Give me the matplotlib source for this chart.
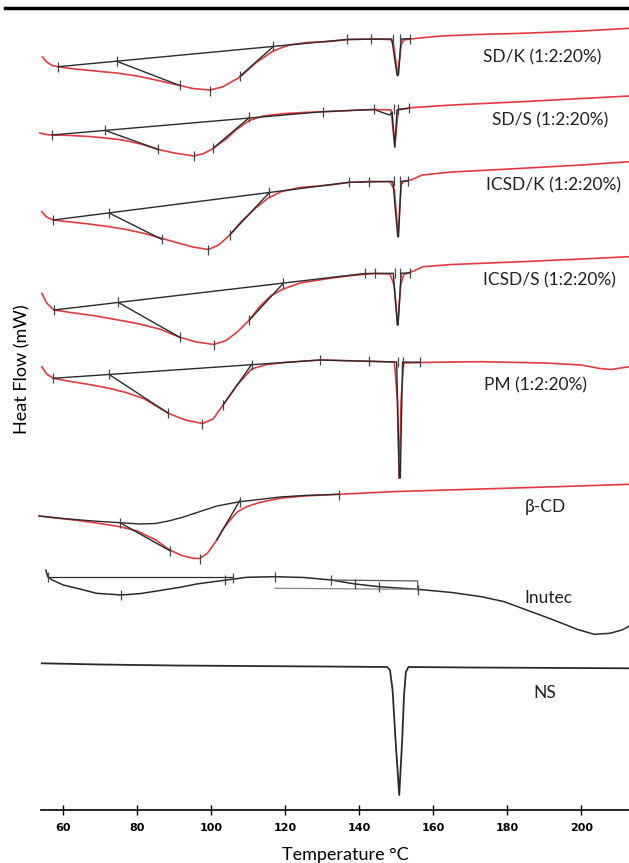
import matplotlib
matplotlib.use("Agg")
import matplotlib.pyplot as plt
from matplotlib.lines import Line2D

plt.rcParams['font.family'] = ['Lato', 'DejaVu Sans']

RED = '#e23a40'
BLK = '#2a2a2a'

# x tick labels (temperature, deg C)
temp_ticks = [60, 80, 100, 120, 140, 160, 180, 200]

# curve names and label spots (T, offset)
names = ['SD/K (1:2:20%)', 'SD/S (1:2:20%)', 'ICSD/K (1:2:20%)', 'ICSD/S (1:2:20%)',
         'PM (1:2:20%)', 'β-CD', 'Inutec', 'NS']
name_T = [189.5, 191.5, 192.5, 191.3, 187.7, 190.3, 191.2, 190.2]
name_y = [57, 120, 185, 280, 385, 507, 598, 693]

# heat flow is read as stacked offsets (arbitrary units, larger = lower on the plot)
# ---- SD/K ----
sdk_T = [54.4, 55.5, 57, 58.6, 62, 66, 70, 74.4, 80, 85, 91.5, 95, 99.6, 103, 107.8, 112,
         116.7, 121, 126, 132, 137, 143, 148.5, 149.3, 150.4, 151.3, 152, 155, 162, 172,
         184, 200, 213]
sdk_hf = [57, 62, 65.5, 66.7, 68.5, 70, 71.5, 73, 76, 80, 85.5, 88.5, 90, 87, 77, 63,
          51, 45, 42.5, 41.5, 39.5, 39, 39.5, 45, 76, 45, 40, 38.5, 36, 34.5,
          33.3, 31, 28.3]
sdk_base = [(58.6, 66.7), (136.6, 39.5), (148.8, 39), (150.2, 75), (150.6, 75), (151.3, 39), (153.7, 38.7)]
sdk_tan1 = [(74.4, 61.2), (91.5, 85.5)]
sdk_tan2 = [(107.8, 76), (116.8, 46.5)]
sdk_ticks = [(58.6, 66.7), (74.4, 61.2), (91.5, 85.5), (99.6, 91), (107.8, 76), (116.8, 46.5),
             (136.6, 39.5), (143.3, 39), (149.2, 39), (151, 39), (153.7, 38.7)]

# ---- SD/S ----
sds_T = [53.7, 55.3, 56.9, 62, 67, 71.3, 76, 81, 85.7, 90, 95.3, 98, 100.5, 104, 107, 110.3,
         114, 120, 126, 132, 140, 144, 148.6, 149.6, 150.5, 154, 165, 184, 200, 213]
sds_hf = [133, 134.5, 135, 135.5, 136.5, 138, 140, 144, 149.5, 153, 156, 153.5, 148.5, 139, 129, 120.5,
          116, 113.5, 112.3, 111.5, 110, 109.5, 110, 147, 110, 107.7, 105, 101.7, 98.5, 96]
sds_base = [(56.9, 135), (130.2, 111.7), (144, 109.5), (145.5, 111.5), (147, 113.5), (148.3, 115),
            (148.9, 112), (149.6, 147), (150.2, 110), (150.5, 109.3), (153.5, 108.2)]
sds_tan1 = [(71.3, 130.4), (85.7, 149.5)]
sds_tan2 = [(100.5, 148.3), (110.3, 117.5)]
sds_ticks = [(56.9, 135), (71.3, 130.4), (85.7, 149.5), (95.3, 156.5), (100.5, 148.3), (110.3, 117.5),
             (130.2, 111.7), (144, 109.5), (149.4, 109.5), (150.5, 109.3), (153.5, 108.2)]

# ---- ICSD/K ----
icsdk_T = [54.2, 55.5, 57.3, 62, 67, 72.4, 77, 82, 86.6, 91, 95, 99.2, 102, 105, 108, 112,
           115.4, 119, 124, 132, 137.3, 142.7, 148.3, 149.5, 150.5, 151.3, 152, 154, 157, 165,
           184, 200, 213]
icsdk_hf = [211.7, 217, 220, 222, 224, 226.7, 229.5, 233.5, 238.3, 243, 247, 249.5, 245, 235, 222, 208,
            198, 191.5, 187.5, 185, 182.3, 181.5, 181.5, 190, 236.7, 185, 181, 180, 175, 172,
            168.3, 165, 161.7]
icsdk_base = [(57.3, 220), (137.3, 182.3), (149.1, 181.5), (150.4, 236.7), (150.6, 236.7),
              (151.3, 181.5), (153.2, 181)]
icsdk_tan1 = [(72.4, 213), (86.6, 239.3)]
icsdk_tan2 = [(105, 235), (115.7, 192.5)]
icsdk_ticks = [(57.3, 220), (72.4, 213), (86.6, 239.3), (99.2, 250), (105, 235), (115.7, 192.5),
               (137.3, 182.3), (142.7, 181.7), (149.3, 181.5), (151, 181.5), (153.2, 181)]

# ---- ICSD/S ----
icsds_T = [54.2, 55.5, 57.5, 62, 68, 74.9, 80, 86, 91.5, 96, 100.7, 104, 107, 110.3, 113, 116,
           119.5, 124, 132, 138, 144.2, 148.3, 149.4, 150.4, 151.2, 152, 154.7, 157.2, 165,
           184, 200, 213]
icsds_hf = [293.3, 303, 310, 312.5, 315.5, 320, 323.5, 329, 337.3, 342, 344.5, 340.5, 332, 320, 307, 296,
            289, 283, 278.3, 275.5, 273.5, 274, 285, 325, 285, 274.5, 271, 266.7, 264.5,
            261.7, 259, 256.7]
icsds_base = [(57.5, 310), (141.5, 273.5), (149.2, 273.3), (150.3, 325), (150.5, 325),
              (151.3, 273.2), (153.7, 273)]
icsds_tan1 = [(74.9, 302.5), (91.5, 337.3)]
icsds_tan2 = [(110.3, 320), (119.5, 283.2)]
icsds_ticks = [(57.5, 310), (74.9, 302.5), (91.5, 337.3), (100.7, 345), (110.3, 320), (119.5, 283.2),
               (141.5, 273.5), (144.2, 273.4), (149.6, 273.3), (151.1, 273.2), (153.7, 273)]

# ---- PM ----
pm_T = [54.2, 55.5, 57.3, 62, 67, 72.4, 77, 82, 88.4, 93, 97.6, 100.5, 103.2, 107, 110.9, 115,
        120, 129.4, 140, 149.5, 150.3, 150.8, 151.3, 152, 156.4, 165, 173, 190, 200, 205,
        208, 213]
pm_hf = [366.7, 374, 378.3, 381.5, 384.5, 388.3, 392.5, 399, 413.3, 420, 423.5, 419, 405, 385, 369, 364.5,
         362.5, 360, 361, 362, 400, 478, 400, 363, 362.5, 362, 361.7, 363, 365, 368.5,
         369.5, 366.7]
pm_base = [(57.3, 378.3), (129.4, 360), (150.1, 362), (150.8, 478), (151.1, 478), (151.7, 362),
           (156.4, 362.3)]
pm_tan1 = [(72.4, 374.5), (88.4, 413.3)]
pm_tan2 = [(103.2, 405), (110.9, 364.5)]
pm_ticks = [(57.3, 378.3), (72.4, 374.5), (88.4, 413.3), (97.6, 424), (103.2, 405), (110.9, 364.7),
            (129.4, 360), (142.7, 361.5), (150.4, 362), (151.7, 362), (156.4, 362.3)]

# ---- beta-CD ----
bcd_T = [53.5, 58, 63, 69, 75.3, 80, 85, 88.8, 92, 95.1, 96.9, 99, 101.5, 103, 105.1, 107,
         109.6, 113, 118.6, 125, 134.4, 150, 173, 195, 213]
bcd_hf = [516, 518, 520, 523, 526.7, 531, 540, 550, 555.5, 558.3, 558.5, 553, 540, 530, 520, 512,
          506.7, 502.5, 498.3, 496, 494.3, 491.5, 489, 486.5, 484.3]
bcd_base = [(53.5, 516), (60, 518.5), (68, 521), (75.3, 522.7), (80.7, 524), (85, 523.5), (88.8, 520.7),
            (92.5, 517), (96, 512.7), (101.5, 506), (107.7, 501.7), (113, 499.5), (118.6, 497),
            (125, 495.5), (134.4, 494.3)]
bcd_tan1 = [(75.3, 522.7), (88.8, 550.7)]
bcd_tan2 = [(101.5, 540), (107.7, 500.7)]
bcd_ticks = [(75.3, 522.7), (88.8, 550.5), (96.9, 559), (107.7, 501.7), (134.4, 494.5)]

# ---- Inutec ----
inu_T = [55.3, 55.8, 57, 60, 65, 69, 75.8, 81, 87, 92, 96, 100, 104.2, 109.6, 117.2, 125,
         132.4, 138.9, 145.3, 155.8, 165, 173, 179, 184, 190, 194.8, 199, 203.5, 207.7, 211, 213]
inu_hf = [570, 576.7, 580, 585, 589.5, 593.3, 595, 593.5, 590, 587, 584, 582, 580, 577.3, 576.7, 577.5,
          580, 584, 586.7, 589.3, 592.5, 596.7, 601.5, 608.3, 616.5, 623.3, 629.5, 634.3, 633.3, 630, 626]
inu_flat = [(55.9, 577), (105.8, 577)]
inu_box = [(132.4, 580), (155.8, 581), (155.8, 590)]
inu_low = [(117.2, 588.3), (155.8, 589.3)]
inu_ticks = [(55.9, 577), (75.5, 595), (103.7, 580), (105.8, 577.5), (117.2, 577), (132.4, 580),
             (138.9, 584), (145.3, 587), (155.8, 589.5)]

# ---- NS ----
ns_T = [54.2, 70, 90, 110, 130, 147.5, 148.3, 149, 149.8, 150.8, 151.6, 152.1, 152.6, 153.3, 170, 213]
ns_hf = [663.3, 664.5, 665.5, 666, 666.5, 667, 670, 690, 740, 795, 740, 695, 672, 667, 667.5, 668.3]

fig = plt.figure(figsize=(6.29, 8.63), dpi=100)
ax = fig.add_axes([0, 0, 1, 1])
ax.set_xlim(42.9, 212.9)
ax.set_ylim(863, 0)


def xy(pts):
    return [p[0] for p in pts], [p[1] for p in pts]


def draw_dsc(T, hf, base, tan1, tan2, ticks):
    ax.plot(T, hf, color=RED, lw=1.2, zorder=2)
    for seg in (base, tan1, tan2):
        ax.plot(*xy(seg), color=BLK, lw=1.0, zorder=3)
    tx, ty = xy(ticks)
    ax.plot(tx, ty, ls='none', marker='|', ms=7, mew=0.9, color='#444444', zorder=4)


draw_dsc(sdk_T, sdk_hf, sdk_base, sdk_tan1, sdk_tan2, sdk_ticks)
draw_dsc(sds_T, sds_hf, sds_base, sds_tan1, sds_tan2, sds_ticks)
draw_dsc(icsdk_T, icsdk_hf, icsdk_base, icsdk_tan1, icsdk_tan2, icsdk_ticks)
draw_dsc(icsds_T, icsds_hf, icsds_base, icsds_tan1, icsds_tan2, icsds_ticks)
draw_dsc(pm_T, pm_hf, pm_base, pm_tan1, pm_tan2, pm_ticks)
draw_dsc(bcd_T, bcd_hf, bcd_base, bcd_tan1, bcd_tan2, bcd_ticks)

# inutec (black only)
ax.plot(inu_T, inu_hf, color=BLK, lw=1.1)
ax.plot(*xy(inu_flat), color=BLK, lw=0.9)
ax.plot(*xy(inu_box), color='#555555', lw=0.9)
ax.plot(*xy(inu_low), color='#888888', lw=0.9)
tx, ty = xy(inu_ticks)
ax.plot(tx, ty, ls='none', marker='|', ms=7, mew=0.9, color='#444444')

# NS
ax.plot(ns_T, ns_hf, color=BLK, lw=1.3)

for n, t, y in zip(names, name_T, name_y):
    ax.text(t, y, n, ha='center', va='center', fontsize=12.5, color='#222222')

# temperature axis
for s in ['top', 'left', 'right']:
    ax.spines[s].set_visible(False)
ax.spines['bottom'].set_position(('data', 810))
ax.spines['bottom'].set_bounds(54, 212.9)
ax.spines['bottom'].set_linewidth(1.2)
ax.set_xticks(temp_ticks)
ax.set_yticks([])
ax.tick_params(axis='x', direction='inout', length=7, width=1, pad=6, labelsize=8)
for lab in ax.get_xticklabels():
    lab.set_fontweight('bold')
    lab.set_family(['Liberation Sans Narrow', 'DejaVu Sans'])
ax.patch.set_visible(False)

fig.text(345 / 629, 1 - 855 / 863, 'Temperature °C', ha='center', va='center', fontsize=13)
fig.text(22 / 629, 1 - 369 / 863, 'Heat Flow (mW)', ha='center', va='center', rotation=90, fontsize=13)
# header rule
fig.add_artist(Line2D([5 / 629, 1], [1 - 8 / 863, 1 - 8 / 863], color='black', lw=2.5))

fig.savefig('out.png', dpi=100)
